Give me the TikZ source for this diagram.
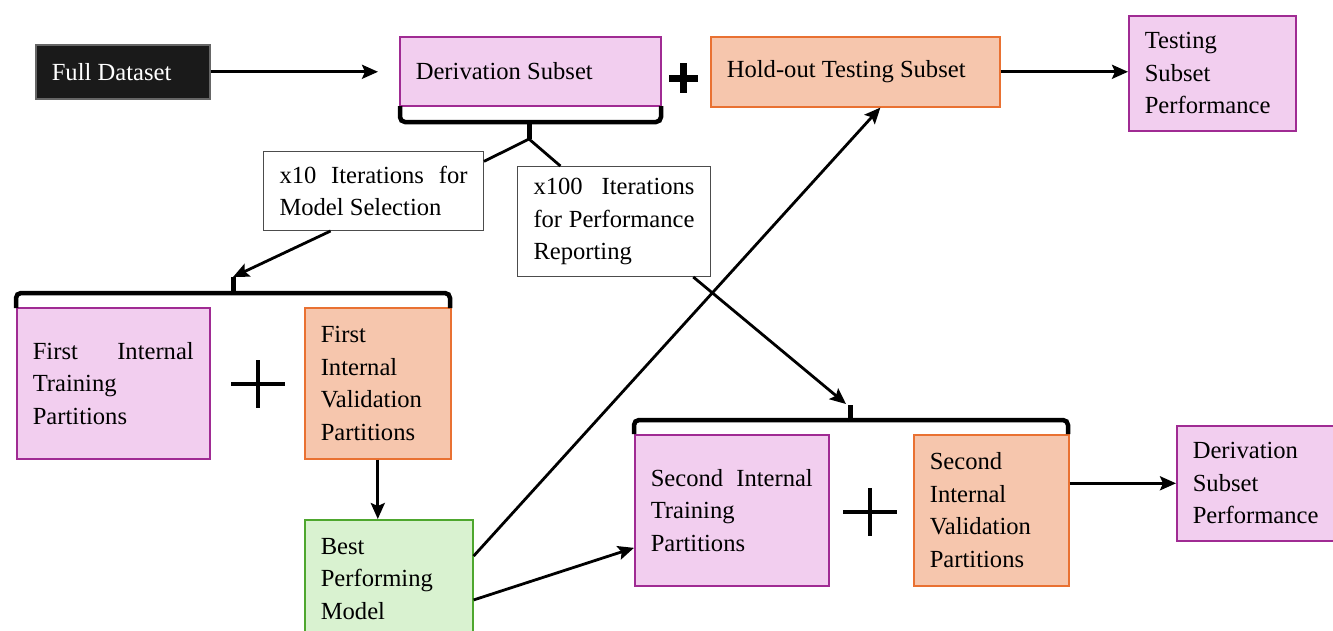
\documentclass[tikz,border=0pt]{standalone}
\usepackage{fontspec}
\setmainfont{Liberation Serif}
\usetikzlibrary{arrows.meta}
\definecolor{pinkfill}{HTML}{F2CEEF}
\definecolor{pinkline}{HTML}{A02B93}
\definecolor{orfill}{HTML}{F6C6AD}
\definecolor{orline}{HTML}{E97132}
\definecolor{grfill}{HTML}{D9F2D0}
\definecolor{grline}{HTML}{4EA72E}
\definecolor{blk}{HTML}{1A1A1A}
\tikzset{
  box/.style={draw, line width=1.6pt, anchor=north west, inner xsep=16pt, inner ysep=0pt,
    align=justify, font=\fontsize{24.6}{32.5}\selectfont},
  pinkbox/.style={box, fill=pinkfill, draw=pinkline},
  orbox/.style={box, fill=orfill, draw=orline},
  grbox/.style={box, fill=grfill, draw=grline},
  whbox/.style={box, fill=white, draw=black!70, line width=1pt},
  blkbox/.style={box, fill=blk, draw=black!60, text=white},
  conn/.style={line width=2.8pt, -{Stealth[length=16pt,width=14pt,inset=3pt]}},
  plainconn/.style={line width=2.8pt},
  bracestyle/.style={line width=4.5pt, rounded corners=5pt},
  braceTip/.style={line width=5pt},
  plusbold/.style={line width=7pt},
  plusthin/.style={line width=4pt},
}
\begin{document}
\begin{tikzpicture}[x=1pt,y=-1pt]
\useasboundingbox (0,0) rectangle (1333,630);
\clip (0,0) rectangle (1333,630);

\node[blkbox, text width=142pt, minimum height=54pt] (full) at (35,44) {Full Dataset};
\node[pinkbox, text width=229pt, minimum height=69pt] (deriv) at (399,36) {Derivation Subset};
\node[orbox, text width=257pt, minimum height=70pt] (holdout) at (710,36) {Hold-out Testing Subset};
\node[pinkbox, text width=135pt, minimum height=115pt] (testing) at (1128,15) {Testing\\Subset\\Performance};
\node[whbox, text width=188pt, minimum height=79pt] (x10) at (263,151) {x10 Iterations for\linebreak Model Selection};
\node[whbox, text width=161pt, minimum height=110pt] (x100) at (517,166) {x100 Iterations\linebreak for Performance\linebreak Reporting};
\node[pinkbox, text width=161pt, minimum height=151pt] (fitp) at (16,307) {First Internal\linebreak Training\\Partitions};
\node[orbox, text width=114pt, minimum height=151pt] (fivp) at (304,307) {First\\Internal\\Validation\\Partitions};
\node[grbox, text width=136pt, minimum height=118pt] (best) at (304,519) {Best\\Performing\\Model};
\node[pinkbox, text width=162pt, minimum height=151pt] (sitp) at (634,434) {Second Internal\linebreak Training\\Partitions};
\node[orbox, text width=123pt, minimum height=151pt] (sivp) at (913,434) {Second\\Internal\\Validation\\Partitions};
\node[pinkbox, text width=138pt, minimum height=115pt] (dsp) at (1176,425) {Derivation\\Subset\\Performance};

% plus signs
\draw[plusbold] (669,78) -- (698,78) (683,63) -- (683,93);
\draw[plusthin] (231,384) -- (285,384) (258,360) -- (258,408);
\draw[plusthin] (843,512) -- (897,512) (870,488) -- (870,536);

% braces
\coordinate (dtip) at (529,139);
\draw[bracestyle] (400,106) |- (529,122) -| (661,106);
\draw[braceTip] (529,120) -- (dtip);
\coordinate (b1tip) at (233,277);
\draw[bracestyle] (16,308) |- (233,293) -| (450,308);
\draw[braceTip] (233,295) -- (b1tip);
\coordinate (b2tip) at (850,405);
\coordinate (b2in) at (846,404);
\draw[bracestyle] (634,434) |- (850,420) -| (1068,434);
\draw[braceTip] (850,422) -- (b2tip);

% connectors
\coordinate (fullend) at (378,71);
\draw[conn] (full.east) -- (full.east -| fullend);
\draw[conn] (holdout.east) -- (testing.west |- holdout.east);
\draw[plainconn] (dtip) -- (x10.15.5);
\draw[plainconn] (dtip) -- (x100.134);
\draw[conn] (x10.223) -- (b1tip);
\draw[conn] (x100.325) -- (b2in);
\draw[conn] (fivp.south) -- (fivp.south |- best.north);
\draw[conn] (best.15.6) -- (holdout.305);
\draw[conn] (best.346.9) -- (sitp.201.1);
\draw[conn] (sivp.east |- dsp.west) -- (dsp.west);
\end{tikzpicture}
\end{document}
